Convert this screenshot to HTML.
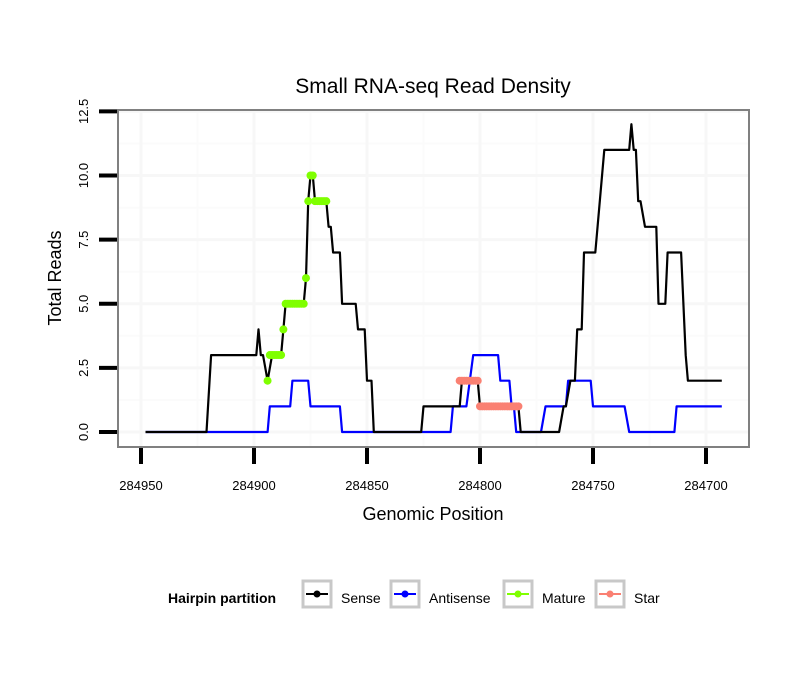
<!DOCTYPE html>
<html><head><meta charset="utf-8"><style>
body{margin:0;background:#fff;}
svg text{font-family:"Liberation Sans",sans-serif;}
</style></head><body>
<svg id="chart" width="810" height="690" viewBox="0 0 810 690" xmlns="http://www.w3.org/2000/svg">
<rect width="810" height="690" fill="#fff"/>
<text x="433" y="93" font-size="21" text-anchor="middle">Small RNA-seq Read Density</text>
<g id="grid"></g>
<g id="series"></g>
<rect x="118" y="110" width="631" height="337" fill="none" stroke="#808080" stroke-width="2"/>
<g id="axes"></g>
<text x="433" y="520" font-size="18" text-anchor="middle">Genomic Position</text>
<text transform="translate(61,278) rotate(-90)" font-size="18" text-anchor="middle">Total Reads</text>
<g>
<text x="168" y="603" font-size="14" font-weight="bold">Hairpin partition</text>
<g>
<rect x="303" y="581" width="28" height="26" fill="#fff" stroke="#c8c8c8" stroke-width="3"/>
<line x1="306" y1="594" x2="328" y2="594" stroke="#000" stroke-width="2"/><circle cx="317" cy="594" r="3.5" fill="#000"/>
<text x="341" y="603" font-size="14">Sense</text></g>
<g>
<rect x="391" y="581" width="28" height="26" fill="#fff" stroke="#c8c8c8" stroke-width="3"/>
<line x1="394" y1="594" x2="416" y2="594" stroke="#0000ff" stroke-width="2"/><circle cx="405" cy="594" r="3.5" fill="#0000ff"/>
<text x="429" y="603" font-size="14">Antisense</text></g>
<g>
<rect x="504" y="581" width="28" height="26" fill="#fff" stroke="#c8c8c8" stroke-width="3"/>
<line x1="507" y1="594" x2="529" y2="594" stroke="#7fff00" stroke-width="2"/><circle cx="518" cy="594" r="3.5" fill="#7fff00"/>
<text x="542" y="603" font-size="14">Mature</text></g>
<g>
<rect x="596" y="581" width="28" height="26" fill="#fff" stroke="#c8c8c8" stroke-width="3"/>
<line x1="599" y1="594" x2="621" y2="594" stroke="#fa8072" stroke-width="2"/><circle cx="610" cy="594" r="3.5" fill="#fa8072"/>
<text x="634" y="603" font-size="14">Star</text></g>
</g>
</svg>
<script>
const xTicks=[284950,284900,284850,284800,284750,284700];
const yTicks=[0,2.5,5,7.5,10,12.5];
const yTickLabels=["0.0","2.5","5.0","7.5","10.0","12.5"];
const senseX=[284948,284921,284919,284899,284898,284897,284896,284894,284892,284888,284887,284886,284878,284877,284876,284875,284874,284873,284868,284867,284866,284865,284862,284861,284855,284854,284851,284850,284848,284847,284826,284825,284809,284808,284801,284800,284783,284782,284765,284763,284762,284760,284758,284757,284755,284754,284749,284747,284745,284734,284733,284732,284731,284730,284729,284727,284722,284721,284718,284717,284711,284709,284708,284693];
const senseY=[0,0,3,3,4,3,3,2,3,3,4,5,5,6,9,10,10,9,9,8,8,7,7,5,5,4,4,2,2,0,0,1,1,2,2,1,1,0,0,1,1,2,2,4,4,7,7,9,11,11,12,11,11,9,9,8,8,5,5,7,7,3,2,2];
const antiX=[284948,284894,284893,284884,284883,284876,284875,284862,284861,284813,284812,284806,284803,284792,284791,284787,284786,284785,284784,284773,284771,284762,284761,284751,284750,284736,284734,284714,284713,284693];
const antiY=[0,0,1,1,2,2,1,1,0,0,1,1,3,3,2,2,1,1,0,0,1,1,2,2,1,1,0,0,1,1];
const matureX=[284894,284893,284892,284891,284890,284889,284888,284887,284886,284885,284884,284883,284882,284881,284880,284879,284878,284877,284876,284875,284874,284873,284872,284871,284870,284869,284868];
const matureY=[2,3,3,3,3,3,3,4,5,5,5,5,5,5,5,5,5,6,9,10,10,9,9,9,9,9,9];
const starX=[284809,284808,284807,284806,284805,284804,284803,284802,284801,284800,284799,284798,284797,284796,284795,284794,284793,284792,284791,284790,284789,284788,284787,284786,284785,284784,284783];
const starY=[2,2,2,2,2,2,2,2,2,1,1,1,1,1,1,1,1,1,1,1,1,1,1,1,1,1,1];

const NS="http://www.w3.org/2000/svg";
const X=p=>141+(284950-p)*2.26;
const Y=v=>432-v*25.65;
function mk(tag,attrs,parent){const e=document.createElementNS(NS,tag);for(const k in attrs)e.setAttribute(k,attrs[k]);parent.appendChild(e);return e;}
const grid=document.getElementById('grid'),axes=document.getElementById('axes'),series=document.getElementById('series');
mk('rect',{x:118,y:110,width:631,height:337,fill:'#fff'},grid);
for(let i=0;i<xTicks.length;i++){const p=xTicks[i]-25;if(X(p)<749){const l=mk('line',{x1:X(p),x2:X(p),y1:110,y2:447,stroke:'#fbfbfb','stroke-width':2},grid);}}
for(let i=0;i<yTicks.length-1;i++){const v=yTicks[i]+1.25;const l=mk('line',{x1:118,x2:749,y1:Y(v),y2:Y(v),stroke:'#fbfbfb','stroke-width':2},grid);}
xTicks.forEach(p=>{const l=mk('line',{x1:X(p),x2:X(p),y1:110,y2:447,stroke:'#f7f7f7','stroke-width':3},grid);
const t=mk('line',{x1:X(p),x2:X(p),y1:448,y2:464,stroke:'#000','stroke-width':4},axes);
const tx=mk('text',{x:X(p),y:490,'font-size':13,'text-anchor':'middle'},axes);tx.textContent=p;});
yTicks.forEach((v,i)=>{const l=mk('line',{x1:118,x2:749,y1:Y(v),y2:Y(v),stroke:'#f7f7f7','stroke-width':3},grid);
const t=mk('line',{x1:99,x2:117,y1:Y(v),y2:Y(v),stroke:'#000','stroke-width':4},axes);
const tx=mk('text',{transform:`translate(88,${Y(v)}) rotate(-90)`,'font-size':13,'text-anchor':'middle'},axes);tx.textContent=yTickLabels[i];});
function line(xs,ys,color,name){const d=xs.map((p,i)=>(i?'L':'M')+X(p).toFixed(1)+','+Y(ys[i]).toFixed(1)).join('');const e=mk('path',{d:d,fill:'none',stroke:color,'stroke-width':2.2,'stroke-linejoin':'round'},series);}
function pts(xs,ys,color,name){xs.forEach((p,i)=>{const c=mk('circle',{cx:X(p),cy:Y(ys[i]),r:4,fill:color},series);});}
line(antiX,antiY,'#0000ff','antisense-line');
line(senseX,senseY,'#000','sense-line');
pts(matureX,matureY,'#7fff00','mature-point');
pts(starX,starY,'#fa8072','star-point');
</script>
</body></html>
